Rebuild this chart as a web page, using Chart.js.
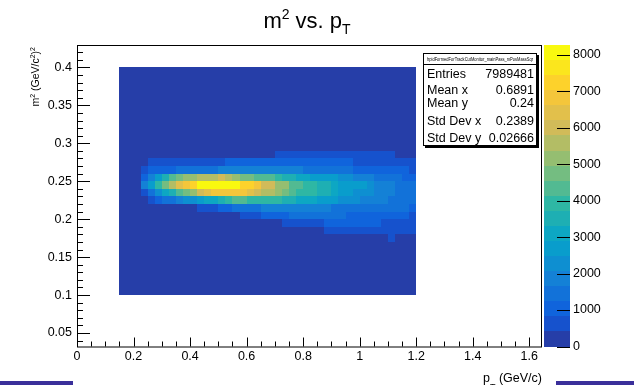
<!DOCTYPE html>
<html>
<head>
<meta charset="utf-8">
<script src="https://cdn.jsdelivr.net/npm/chart.js@4.4.0/dist/chart.umd.min.js"></script>
<style>
  html, body { margin: 0; padding: 0; background: #fff; }
</style>
</head>
<body>
<canvas id="c" width="634" height="385"></canvas>
<script>
// 2D histogram m^2 vs p_T, bin layout
const pTBins = { count: 42, lo: 0.15, hi: 1.2 };   // x axis, GeV/c
const m2Bins = { count: 30, lo: 0.10, hi: 0.40 };  // y axis, (GeV/c^2)^2

// filled band: each row starts at p_T bin 3 (0.225) and runs to bin 41
const firstFilledCol = 3;
const firstFilledRow = 7;   // m^2 bin 0.17-0.18

const m2_017 = [0,0,0,0,0,0,0,0,0,0, 0,0,0,0,0,0,0,0,0,0, 0,0,0,0,0,0,0,0,0,0, 0,0,0,0,0, 430, 0,0,0];
const m2_018 = [0,0,0,0,0,0,0,0,0,0, 0,0,0,0,0,0,0,0,0,0, 0,0,0,0,0,0, 430,470,510,540,560,570,580,570,560,540,520,500,470];
const m2_019 = [0,0,0,0,0,0,0,0,0,0, 0,0,0,0,0,0,0,0,0,0, 450,520,580,640,700,780, 850,900,930,950,920,890,860,830, 790,740,690,640,580];
const m2_020 = [0,0,0,0,0,0,0,0,0,0, 0,0,0,0, 500,620,720, 880,960,1050,1150, 1260,1320,1380,1420,1450,1430,1380,1300, 1220,1180,1140,1100,1060,1020,980,930,880, 780];
const m2_021 = [0,0,0,0,0,0,0,0, 480,560,650, 900,1050, 1300,1400,1500,1600, 1700,1750,1800,1850,1850,1800,1780,1750,1720,1680, 1640,1610,1580,1550,1520,1480,1450,1420,1380,1340,1280, 1150];
const m2_022 = [200,560,1000,1350,1550,1850,2200,2400,2700,3000, 3250,3500,3900,4250,4200,4050,3950,3900,3850,3800, 3650,3450,3250,3100,2950,2850,2700,2550,2400,2250, 2100,2000,1850,1750,1700,1600,1500,1400,1300];
const m2_023 = [600,1450,2300,3050,3500,4350,4700,5150,6000,6350, 6750,6900,6950,6900,6800,6500,5950,5650,5450,5100, 4800,4300,4050,3900,3750,3600,3400,3050,2800,2600, 2450,2300,2150,2000,1850,1700,1550,1450,1350];
const m2_024 = [1950,2750,3950,4800,5600,6450,6900,7300,7950,8150, 8264,8200,8050,7900,7350,7100,6700,6100,5850,5250, 5000,4400,4200,4050,3800,3600,3400,3150,2850,2700, 2600,2550,2350,2000,1900,1700,1600,1500,1400];
const m2_025 = [1100,1900,2700,3500,4300,4700,5100,5250,5450,5600, 5700,5850,5550,5200,4900,4700,4450,4300,4200,3950, 3650,3400,3200,2950,2850,2700,2600,2520,2400,2250, 2000,1900,1750,1600,1500,1400,1300,1200,1050];
const m2_026 = [620, 900,1000,1090,1180, 1290,1360,1430,1490,1550,1610, 1680,1730,1780,1820,1850,1870,1880,1870,1850,1820,1780,1720, 1640,1600,1560,1510,1460,1400,1330, 1230,1190,1150,1100,1050,1000,940,880, 800];
const m2_027 = [0, 470,540,590,630,660,690,720,740,760,780,800, 850,890,930,960,990,1010,1030,1040,1050,1040,1030,1010,990,970,940,910,880,850, 800,780,760,730,700,670,640,600,560];
const m2_028 = [0,0,0,0,0,0,0,0,0,0, 0,0,0,0,0,0,0,0,0, 520,560,590,610,640,650,660,650,640,630,620,600,580,560,540,510,480, 0,0,0];

const bandRows = [m2_017, m2_018, m2_019, m2_020, m2_021, m2_022, m2_023, m2_024, m2_025, m2_026, m2_027, m2_028];

const nColorLevels = 20;
const zTicks = [0, 1000, 2000, 3000, 4000, 5000, 6000, 7000, 8000];
const statsTitle = 'hpidFormedForTrackCutMonitor_mainPass_mPosMassSqr';
const statsLabels = ['Entries', 'Mean x', 'Mean y', 'Std Dev x', 'Std Dev y'];
const statsValues = ['7989481', '0.6891', '0.24', '0.2389', '0.02666'];

// ROOT kBird palette
const birdStops = [0.0, 0.125, 0.25, 0.375, 0.5, 0.625, 0.75, 0.875, 1.0];
const birdRed   = [0.2082, 0.0592, 0.0780, 0.0232, 0.1802, 0.5301, 0.8186, 0.9956, 0.9764];
const birdGreen = [0.1664, 0.3599, 0.5041, 0.6419, 0.7178, 0.7492, 0.7328, 0.7862, 0.9832];
const birdBlue  = [0.5293, 0.8684, 0.8385, 0.7914, 0.6425, 0.4662, 0.3499, 0.1968, 0.0539];

const FONT = '"Liberation Sans", Arial, Helvetica, sans-serif';

function buildPalette(n) {
    const cols = [];
    for (let g = 1; g < birdStops.length; g++) {
        const nc = Math.floor(n * birdStops[g]) - Math.floor(n * birdStops[g - 1]);
        for (let c = 0; c < nc; c++) {
            const f = c / nc;
            const r = birdRed[g - 1] + f * (birdRed[g] - birdRed[g - 1]);
            const gr = birdGreen[g - 1] + f * (birdGreen[g] - birdGreen[g - 1]);
            const b = birdBlue[g - 1] + f * (birdBlue[g] - birdBlue[g - 1]);
            cols.push(`rgb(${Math.round(r * 255)},${Math.round(gr * 255)},${Math.round(b * 255)})`);
        }
    }
    return cols;
}
const palette = buildPalette(255);

function cellCount(ix, iy) {
    const row = bandRows[iy - firstFilledRow];
    if (!row) return 0;
    const v = row[ix - firstFilledCol];
    return v === undefined ? 0 : v;
}

const zMax = Math.max(...bandRows.map(r => Math.max(...r)));

function levelColor(level) {
    const idx = Math.floor((level + 0.99) * palette.length / nColorLevels);
    return palette[Math.min(idx, palette.length - 1)];
}
function levelOf(v) {
    return Math.min(nColorLevels - 1, Math.floor(0.01 + v * nColorLevels / zMax));
}

function isMultiple(v, s) {
    return Math.abs(v / s - Math.round(v / s)) < 1e-6;
}
function fmt(v) {
    return String(parseFloat(v.toFixed(3)));
}

function drawRich(ctx, parts, x, y, align) {
    let total = 0;
    parts.forEach(p => {
        ctx.font = `${p.size}px ${FONT}`;
        p.w = ctx.measureText(p.text).width;
        total += p.w;
    });
    let cx = align === 'center' ? x - total / 2 : align === 'right' ? x - total : x;
    parts.forEach(p => {
        ctx.font = `${p.size}px ${FONT}`;
        ctx.fillText(p.text, cx, y + (p.dy || 0));
        cx += p.w;
    });
}

const th2Plugin = {
    id: 'th2',
    beforeDatasetsDraw(chart) {
        const ctx = chart.ctx;
        const { x, y } = chart.scales;
        const dx = (pTBins.hi - pTBins.lo) / pTBins.count;
        const dy = (m2Bins.hi - m2Bins.lo) / m2Bins.count;
        ctx.save();
        for (let iy = 0; iy < m2Bins.count; iy++) {
            const yTop = Math.round(y.getPixelForValue(m2Bins.lo + (iy + 1) * dy));
            const yBot = Math.round(y.getPixelForValue(m2Bins.lo + iy * dy));
            for (let ix = 0; ix < pTBins.count; ix++) {
                const xL = Math.round(x.getPixelForValue(pTBins.lo + ix * dx));
                const xR = Math.round(x.getPixelForValue(pTBins.lo + (ix + 1) * dx));
                ctx.fillStyle = levelColor(levelOf(cellCount(ix, iy)));
                ctx.fillRect(xL, yTop, xR - xL, yBot - yTop);
            }
        }
        ctx.restore();
    },
    afterDraw(chart) {
        const ctx = chart.ctx;
        const { x, y, z } = chart.scales;
        const area = chart.chartArea;
        ctx.save();
        ctx.strokeStyle = '#000';
        ctx.lineWidth = 1;

        // frame
        ctx.strokeRect(area.left + 0.5, area.top + 0.5, area.right - area.left - 1, area.bottom - area.top);

        // inward ticks
        ctx.beginPath();
        y.ticks.forEach(t => {
            const py = Math.round(y.getPixelForValue(t.value)) + 0.5;
            const len = t.label !== '' ? 13 : 6;
            ctx.moveTo(area.left, py);
            ctx.lineTo(area.left + len, py);
        });
        x.ticks.forEach(t => {
            const px = Math.round(x.getPixelForValue(t.value)) + 0.5;
            const len = t.label !== '' ? 9 : 5;
            ctx.moveTo(px, area.bottom);
            ctx.lineTo(px, area.bottom - len);
        });
        ctx.stroke();

        // colour palette
        const palL = z.left + 2, palW = 26;
        for (let k = 0; k < nColorLevels; k++) {
            const p0 = Math.round(z.getPixelForValue(k * zMax / nColorLevels));
            const p1 = Math.round(z.getPixelForValue((k + 1) * zMax / nColorLevels));
            ctx.fillStyle = levelColor(k);
            ctx.fillRect(palL, p1, palW, p0 - p1);
        }
        ctx.beginPath();
        z.ticks.forEach(t => {
            const py = Math.round(z.getPixelForValue(t.value)) + 0.5;
            ctx.moveTo(palL + palW - 13, py);
            ctx.lineTo(palL + palW, py);
        });
        ctx.stroke();

        // stats box
        const bx = 423, by = 53, bw = 114, bh = 93;
        ctx.fillStyle = '#000';
        ctx.fillRect(bx + 2, by + 2, bw, bh);
        ctx.fillStyle = '#fff';
        ctx.fillRect(bx, by, bw, bh);
        ctx.strokeRect(bx + 0.5, by + 0.5, bw - 1, bh - 1);
        ctx.beginPath();
        ctx.moveTo(bx, 64.5);
        ctx.lineTo(bx + bw, 64.5);
        ctx.stroke();
        ctx.fillStyle = '#000';
        ctx.textBaseline = 'alphabetic';
        ctx.font = `4.5px ${FONT}`;
        ctx.textAlign = 'center';
        ctx.fillText(statsTitle, bx + bw / 2, 60.5, bw - 8);
        const rowBase = [78, 93.5, 106.5, 125, 141.5];
        ctx.font = `12.5px ${FONT}`;
        statsLabels.forEach((lab, i) => {
            ctx.textAlign = 'left';
            ctx.fillText(lab, bx + 4, rowBase[i]);
            ctx.textAlign = 'right';
            ctx.fillText(statsValues[i], bx + bw - 3, rowBase[i]);
        });

        // titles
        ctx.textAlign = 'left';
        drawRich(ctx, [
            { text: 'm', size: 22 },
            { text: '2', size: 14, dy: -9 },
            { text: ' vs. p', size: 22 },
            { text: 'T', size: 14, dy: 6 }
        ], 307, 28, 'center');

        drawRich(ctx, [
            { text: 'p', size: 12.5 },
            { text: 'T', size: 9, dy: 8 },
            { text: ' (GeV/c)', size: 12.5 }
        ], area.right, 382, 'right');

        ctx.save();
        ctx.translate(39, area.top + 2);
        ctx.rotate(-Math.PI / 2);
        drawRich(ctx, [
            { text: 'm', size: 10.5 },
            { text: '2', size: 7, dy: -4.5 },
            { text: ' (GeV/c', size: 10.5 },
            { text: '2', size: 7, dy: -4.5 },
            { text: ')', size: 10.5 },
            { text: '2', size: 7, dy: -4.5 }
        ], 0, 0, 'right');
        ctx.restore();

        // slide footer bars
        ctx.fillStyle = '#3a2f9a';
        ctx.fillRect(0, 381, 73, 4);
        ctx.fillRect(556, 381, 78, 4);
        ctx.restore();
    }
};

const tickFont = { family: FONT, size: 12.5 };

new Chart(document.getElementById('c'), {
    type: 'scatter',
    data: { datasets: [] },
    options: {
        responsive: false,
        animation: false,
        devicePixelRatio: 1,
        layout: { padding: { top: 45, left: 0, right: 0, bottom: 0 } },
        plugins: {
            legend: { display: false },
            tooltip: { enabled: false },
            title: { display: false }
        },
        scales: {
            x: {
                type: 'linear', position: 'bottom', min: 0, max: 1.645,
                grid: { display: false, drawTicks: false },
                border: { display: false },
                ticks: {
                    stepSize: 0.05, autoSkip: false, includeBounds: false,
                    maxRotation: 0, minRotation: 0, padding: 3,
                    color: '#000', font: tickFont,
                    callback: v => isMultiple(v, 0.2) ? fmt(v) : ''
                },
                afterFit: s => { s.height = 27; }
            },
            y: {
                type: 'linear', position: 'left', min: 0.0322, max: 0.4296,
                grid: { display: false, drawTicks: false },
                border: { display: false },
                ticks: {
                    stepSize: 0.01, autoSkip: false, includeBounds: false, padding: 5,
                    color: '#000', font: tickFont,
                    callback: v => isMultiple(v, 0.05) ? fmt(v) : ''
                },
                afterFit: s => { s.width = 77; }
            },
            z: {
                type: 'linear', axis: 'y', position: 'right', min: 0, max: zMax,
                grid: { display: false, drawTicks: false },
                border: { display: false },
                afterBuildTicks: s => { s.ticks = zTicks.map(v => ({ value: v })); },
                ticks: {
                    autoSkip: false, padding: 31,
                    color: '#000', font: tickFont,
                    callback: v => String(v)
                },
                afterFit: s => { s.width = 92; }
            }
        }
    },
    plugins: [th2Plugin]
});
</script>
</body>
</html>
